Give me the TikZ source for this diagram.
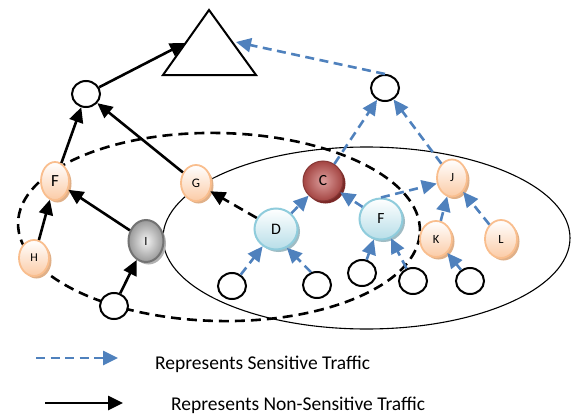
\documentclass[tikz,border=0pt]{standalone}
\usepackage{fontspec}
\setmainfont{Carlito}
\usetikzlibrary{arrows.meta,shapes.geometric,shadows}
\definecolor{sblue}{HTML}{4F81BD}
\definecolor{orbord}{HTML}{F9BE8E}
\definecolor{orfill}{HTML}{FBCBA6}
\definecolor{orshad}{HTML}{E0B088}
\definecolor{lbbord}{HTML}{8FCCDC}
\definecolor{lbfill}{HTML}{B7DEE8}
\definecolor{lbshad}{HTML}{9FBCC4}
\definecolor{credd}{HTML}{C0504D}
\definecolor{cshad}{HTML}{7A2826}
\tikzset{
  x=1pt, y=-1pt,
  blank/.style={ellipse, draw=black, line width=2pt, fill=white, minimum width=28pt, minimum height=26pt, inner sep=0pt},
  orn/.style={ellipse, draw=orbord, line width=1.8pt, top color=white, bottom color=orfill, minimum width=30pt, minimum height=36pt, inner sep=0pt, font=\fontsize{12.5}{12.5}\selectfont,
    drop shadow={shadow xshift=2.5pt, shadow yshift=-2.5pt, fill=orshad, opacity=1}},
  lbn/.style={ellipse, draw=lbbord, line width=2pt, top color=white, bottom color=lbfill, minimum width=43pt, minimum height=41pt, inner sep=0pt, font=\fontsize{16}{16}\selectfont,
    drop shadow={shadow xshift=2.5pt, shadow yshift=-2.5pt, fill=lbshad, opacity=1}},
  redn/.style={ellipse, draw=credd!70!black, line width=1pt, inner color=credd!55!white, outer color=credd!85!black, minimum width=40pt, minimum height=40pt, inner sep=0pt, font=\fontsize{15.5}{15.5}\selectfont,
    drop shadow={shadow xshift=2.5pt, shadow yshift=-2.5pt, fill=cshad, opacity=1}},
  grayn/.style={ellipse, draw=black!55, line width=2pt, inner color=black!5, outer color=black!40, minimum width=35pt, minimum height=42pt, inner sep=0pt, font=\fontsize{12.5}{12.5}\selectfont,
    drop shadow={shadow xshift=2.5pt, shadow yshift=-2.5pt, fill=black!30, opacity=1}},
  blk/.style={line width=2.6pt, -{Triangle[length=15pt,width=14pt]}},
  blkdash/.style={blk, dash pattern=on 10pt off 6pt},
  sens/.style={draw=sblue, line width=2.6pt, dash pattern=on 9pt off 5.5pt, -{Triangle[length=15pt,width=14pt]}, sblue},
  legtext/.style={anchor=west, font=\fontsize{19.5}{19.5}\selectfont, inner sep=0pt},
}
\begin{document}
\begin{tikzpicture}
\useasboundingbox (0,0) rectangle (571,415);
% big ellipses
\draw[line width=1.1pt] (366.5,238) ellipse [x radius=203.5pt, y radius=91pt];
\draw[line width=2.6pt, dash pattern=on 10pt off 6pt, rotate around={-1.2:(219,227)}] (219,227) ellipse [x radius=201pt, y radius=94pt];
% triangle
\draw[line width=2pt, fill=white] (209,10) -- (163,75) -- (256,75) -- cycle;
\coordinate (triL) at (185,43);
\coordinate (triR) at (236,42);
% blank nodes
\node[blank] (top1) at (86,94) {};
\node[blank] (top2) at (385,88) {};
\node[blank] (b1) at (114,306) {};
\node[blank] (b2) at (232,286) {};
\node[blank] (b3) at (317,285) {};
\node[blank] (b4) at (362,273) {};
\node[blank] (b5) at (413,281) {};
\node[blank] (b6) at (470,281) {};
% coloured nodes
\node[orn, minimum width=28pt, minimum height=38pt, font=\fontsize{17}{17}\selectfont] (Fl) at (55,181) {F};
\node[orn, font=\fontsize{13}{13}\selectfont] (G) at (196,183) {G};
\node[orn, font=\fontsize{12}{12}\selectfont] (H) at (34,258) {H};
\node[grayn] (I) at (146,241) {I};
\node[redn] (C) at (323,181) {C};
\node[lbn] (D) at (276,229) {D};
\node[lbn, font=\fontsize{15.5}{15.5}\selectfont] (Fr) at (381,219) {F};
\node[orn, minimum height=37pt] (J) at (452,178) {J};
\node[orn, minimum width=32pt] (K) at (436,239) {K};
\node[orn, minimum width=32pt, minimum height=38pt] (L) at (501,239) {L};
% black arrows
\draw[blk] (top1) -- (triL);
\draw[blk] (Fl) -- (top1);
\draw[blk] (G) -- (top1);
\draw[blk] (I) -- (Fl);
\draw[blk] (H) -- (Fl);
\draw[blk] (b1) -- (I);
\draw[blkdash] (D) -- (G);
% sensitive arrows
\draw[sens] (top2.north) -- (triR);
\draw[sens] (C) -- (top2);
\draw[sens] (J) -- (top2);
\draw[sens] (Fr.north) -- (J.200);
\draw[sens] (Fr) -- (C);
\draw[sens] (D) -- (C);
\draw[sens] (K) -- (J);
\draw[sens] (L) -- (J);
\draw[sens] (b6) -- (K);
\draw[sens] (b2) -- (D);
\draw[sens] (b3.115) -- (D.-60);
\draw[sens] (b4) -- (Fr);
\draw[sens] (b5) -- (Fr);
% legend
\coordinate (l1a) at (36,358);
\coordinate (l1b) at (118,358);
\coordinate (l2a) at (45,403);
\coordinate (l2b) at (123,403);
\draw[sens] (l1a) -- (l1b);
\draw[blk] (l2a) -- (l2b);
\node[legtext] (t1) at (155,364) {Represents Sensitive Traffic};
\node[legtext] (t2) at (171,405) {Represents Non-Sensitive Traffic};
\end{tikzpicture}
\end{document}
